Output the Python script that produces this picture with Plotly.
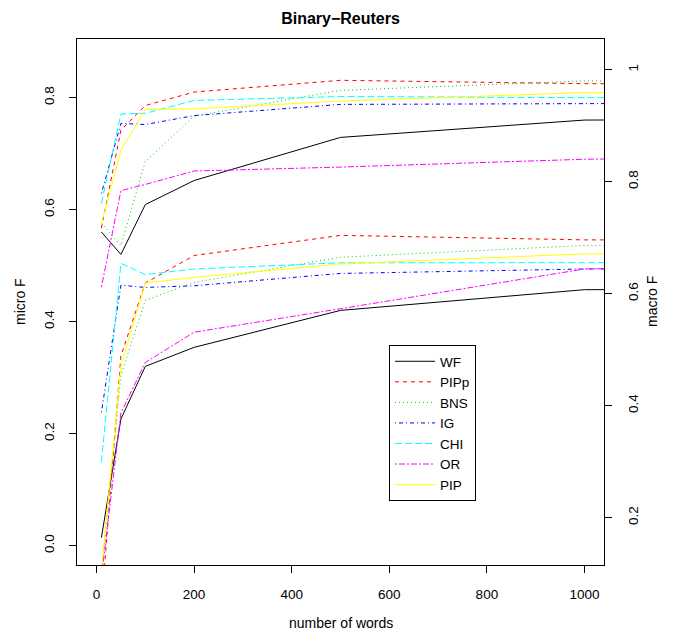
import plotly.graph_objects as go

# Number of selected words (last point lies past the visible x range)
words = [10, 50, 100, 200, 500, 1000, 2000]

methods = ["WF", "PIPp", "BNS", "IG", "CHI", "OR", "PIP"]

# micro F (left axis)
micro_wf = [0.560, 0.520, 0.609, 0.652, 0.729, 0.760, 0.762]
micro_pipp = [0.567, 0.742, 0.786, 0.810, 0.831, 0.825, 0.824]
micro_bns = [0.576, 0.536, 0.686, 0.767, 0.813, 0.830, 0.831]
micro_ig = [0.629, 0.754, 0.752, 0.768, 0.788, 0.792, 0.792]
micro_chi = [0.611, 0.771, 0.772, 0.795, 0.802, 0.800, 0.800]
micro_or = [0.462, 0.634, 0.645, 0.669, 0.676, 0.690, 0.700]
micro_pip = [0.575, 0.706, 0.779, 0.780, 0.794, 0.809, 0.812]

# macro F (right axis)
macro_wf = [0.164, 0.376, 0.470, 0.504, 0.570, 0.607, 0.608]
macro_pipp = [0.040, 0.489, 0.619, 0.668, 0.704, 0.696, 0.695]
macro_bns = [0.096, 0.454, 0.588, 0.620, 0.665, 0.686, 0.688]
macro_ig = [0.388, 0.615, 0.611, 0.614, 0.636, 0.644, 0.645]
macro_chi = [0.299, 0.654, 0.634, 0.644, 0.655, 0.656, 0.656]
macro_or = [0.093, 0.387, 0.477, 0.531, 0.573, 0.644, 0.660]
macro_pip = [0.105, 0.471, 0.619, 0.629, 0.653, 0.671, 0.673]

micro_series = [micro_wf, micro_pipp, micro_bns, micro_ig, micro_chi, micro_or, micro_pip]
macro_series = [macro_wf, macro_pipp, macro_bns, macro_ig, macro_chi, macro_or, macro_pip]

x_ticks = [0, 200, 400, 600, 800, 1000]
left_ticks = [0.0, 0.2, 0.4, 0.6, 0.8]
left_labels = ["0.0", "0.2", "0.4", "0.6", "0.8"]
right_ticks = [0.2, 0.4, 0.6, 0.8, 1.0]
right_labels = ["0.2", "0.4", "0.6", "0.8", "1"]

colors = ["black", "red", "#00CD00", "blue", "cyan", "magenta", "yellow"]
dashes = ["solid", "4px,4px", "1px,3px", "1px,3px,4px,3px", "7px,3px",
          "2px,2px,6px,2px", "solid"]

FONT = "Liberation Sans, Arial, Helvetica, sans-serif"

fig = go.Figure()
for name, ys, col, dash in zip(methods, micro_series, colors, dashes):
    fig.add_trace(go.Scatter(x=words, y=ys, mode="lines", name=name,
                             line=dict(color=col, width=1, dash=dash),
                             yaxis="y"))
for name, ys, col, dash in zip(methods, macro_series, colors, dashes):
    fig.add_trace(go.Scatter(x=words, y=ys, mode="lines", name=name,
                             line=dict(color=col, width=1, dash=dash),
                             showlegend=False, yaxis="y2"))

axis_common = dict(showgrid=False, zeroline=False, ticks="outside", ticklen=7,
                   tickwidth=1, tickcolor="black",
                   tickfont=dict(family=FONT, size=13.5, color="black"))

fig.update_layout(
    width=673, height=632,
    margin=dict(l=77, r=69, t=39, b=67),
    paper_bgcolor="white", plot_bgcolor="white",
    title=dict(text="<b>Binary\u2212Reuters</b>", x=0.5, xref="paper",
               y=1 - 18 / 632, yanchor="middle",
               font=dict(family=FONT, size=16, color="black")),
    xaxis=dict(range=[-40, 1040], tickvals=x_ticks, showline=True, mirror=True,
               linecolor="black", linewidth=1, ticklabelstandoff=10, **axis_common),
    yaxis=dict(range=[-0.0348, 0.9048], tickvals=left_ticks, ticktext=left_labels,
               tickangle=-90, showline=True, mirror=True, linecolor="black",
               linewidth=1, ticklabelstandoff=10, **axis_common),
    yaxis2=dict(range=[0.1152, 1.0548], tickvals=right_ticks, ticktext=right_labels,
                tickangle=-90, overlaying="y", side="right", showline=False,
                ticklabelstandoff=10, **axis_common),
    legend=dict(x=(389 - 77) / 527, y=(565 - 345) / 526, xanchor="left", yanchor="top",
                bgcolor="white", bordercolor="black", borderwidth=1,
                tracegroupgap=0, itemwidth=40,
                font=dict(family=FONT, size=13.5, color="black")),
    showlegend=True,
)

annot_font = dict(family=FONT, size=14, color="black")
fig.add_annotation(text="number of words", xref="paper", yref="paper",
                   x=0.5, y=(565 - 623) / 526, showarrow=False,
                   xanchor="center", yanchor="middle", font=annot_font)
fig.add_annotation(text="micro F", xref="paper", yref="paper",
                   x=(20 - 77) / 527, y=0.5, showarrow=False, textangle=-90,
                   xanchor="center", yanchor="middle", font=annot_font)
fig.add_annotation(text="macro F", xref="paper", yref="paper",
                   x=(652 - 77) / 527, y=0.5, showarrow=False, textangle=-90,
                   xanchor="center", yanchor="middle", font=annot_font)

fig.write_html("out.html")
